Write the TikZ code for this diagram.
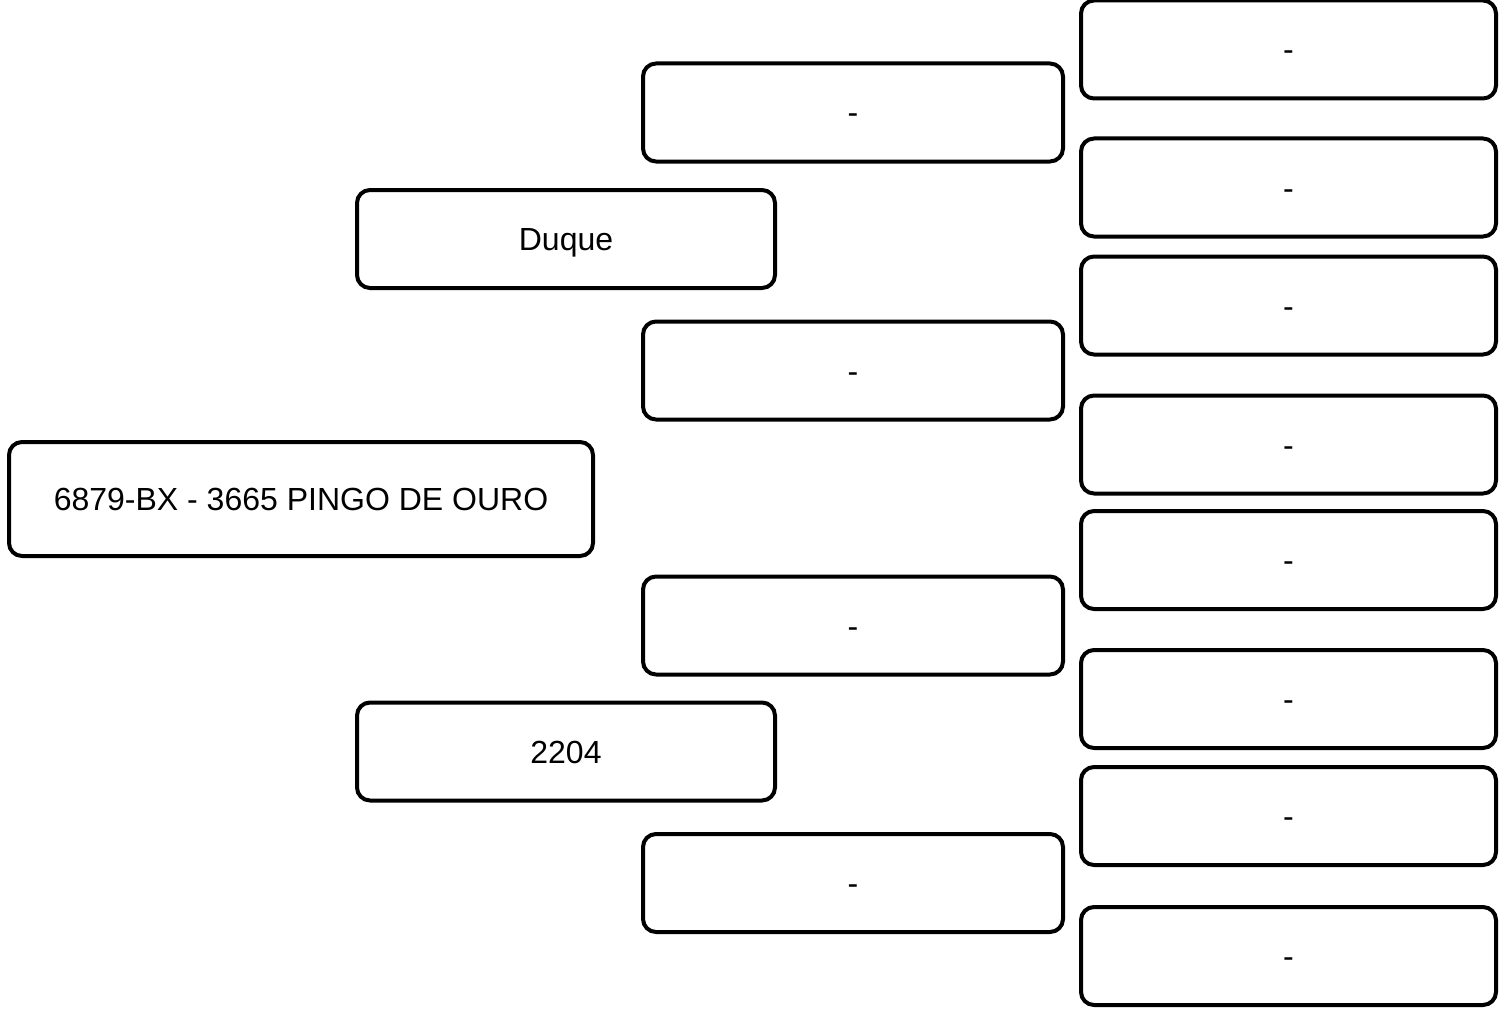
\documentclass[tikz,border=0pt]{standalone}
\usepackage{fontspec}
\setmainfont{Liberation Sans}
\begin{document}
\begin{tikzpicture}[x=0.5pt,y=-0.5pt,
    box/.style={draw=black,line width=2pt,rounded corners=6.5pt,fill=white,inner sep=0pt,minimum height=49pt,text height=12.5pt,text depth=1pt,font=\fontsize{16}{19}\selectfont}]
    \useasboundingbox (0,0) rectangle (1499,1011);
    \node[box,minimum width=292pt,minimum height=57pt] (animal) at (301,499) {6879-BX - 3665 PINGO DE OURO};
    \node[box,minimum width=209pt] (sire) at (566,239) {Duque};
    \node[box,minimum width=209pt] (dam) at (566,751.5) {2204};
    \foreach \y [count=\i] in {112.5,370.5,625.5,883}
        \node[box,minimum width=210pt] (gp\i) at (853,\y) {-};
    \foreach \y [count=\i] in {49.5,187.5,305.5,444.5,560,699,816,956}
        \node[box,minimum width=207.5pt] (ggp\i) at (1288.5,\y) {-};
\end{tikzpicture}
\end{document}
